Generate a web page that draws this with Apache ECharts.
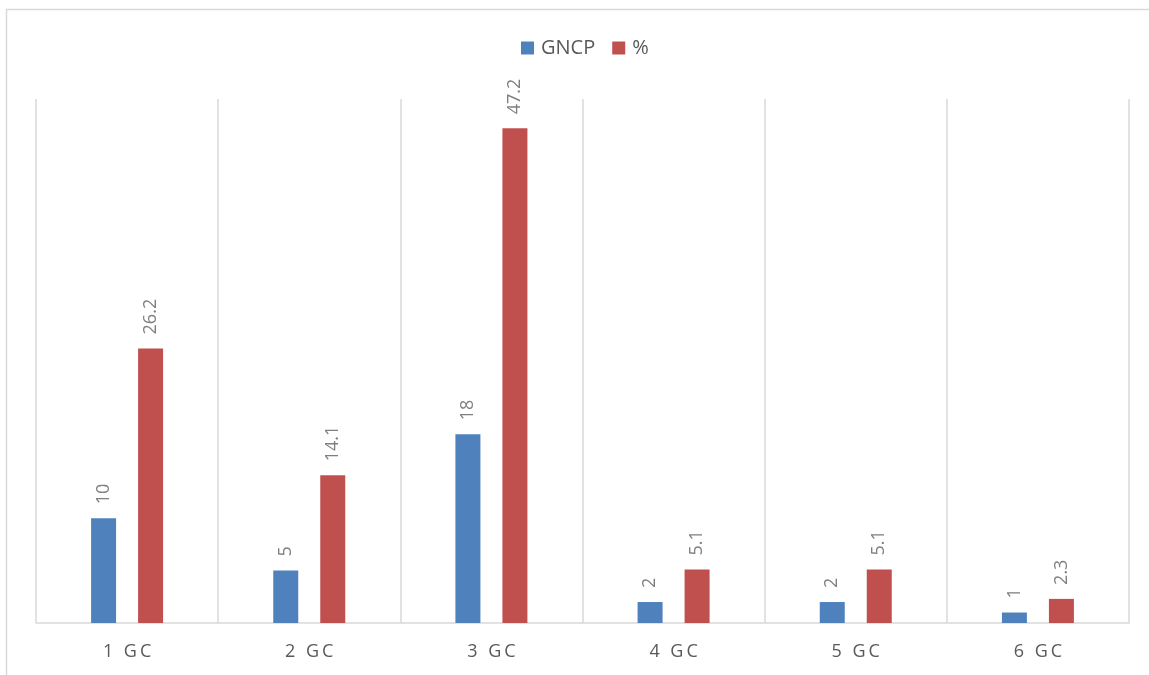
<!DOCTYPE html>
<html><head><meta charset="utf-8">
<script src="https://cdn.jsdelivr.net/npm/echarts@6/dist/echarts.min.js"></script>
<style>html,body{margin:0;padding:0;background:#fff}#c{width:1149px;height:675px}</style>
</head><body><div id="c"></div>
<script>
const categories = ['1 GC','2 GC','3 GC','4 GC','5 GC','6 GC'];
const gncp = [10,5,18,2,2,1];
const pct = [26.2,14.1,47.2,5.1,5.1,2.3];
const seriesNames = ['GNCP','%'];

const chart = echarts.init(document.getElementById('c'));
const font = '"Open Sans", "Liberation Sans", sans-serif';
const lbl = {
  show: true, position: 'top', rotate: 90, align: 'left', verticalAlign: 'middle',
  distance: 14, color: '#7f7f7f', fontSize: 18, fontFamily: font
};
chart.setOption({
  animation: false,
  backgroundColor: '#fff',
  graphic: [{type:'rect', shape:{x:6.5,y:9.5,width:1300,height:800}, style:{fill:'none', stroke:'#d9d9d9', lineWidth:1.5}, silent:true}],
  legend: {
    top: 38, left: 521, padding: 0, icon: 'rect', itemWidth: 13, itemHeight: 13, itemGap: 17,
    textStyle: {color:'#595959', fontSize:20, fontFamily: font, padding:[0,0,0,2]},
    data: seriesNames
  },
  grid: {left: 36, right: 20, top: 99, bottom: 52},
  xAxis: {
    type: 'category', data: categories,
    axisLine: {lineStyle:{color:'#d9d9d9', width:1.5}},
    axisTick: {show:false},
    splitLine: {show:true, interval:0, lineStyle:{color:'#d9d9d9', width:1.5}},
    axisLabel: {color:'#595959', fontSize:18, fontFamily: font, margin: 20,
      formatter: v => v.replace(' ', ' \u2009\u2009').replace('GC', 'G\u2009C')}
  },
  yAxis: {type:'value', min:0, max:50, show:false, splitLine:{show:false}},
  series: [
    {name: seriesNames[0], type:'bar', data: gncp, barWidth: 25, barGap: '88%',
     itemStyle:{color:'#4f81bd'}, label: lbl},
    {name: seriesNames[1], type:'bar', data: pct, barWidth: 25,
     itemStyle:{color:'#c0504d'}, label: lbl}
  ]
});
</script></body></html>
